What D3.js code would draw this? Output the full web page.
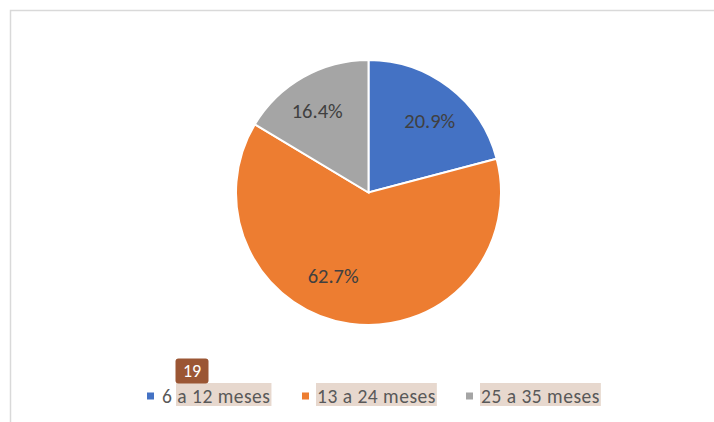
<!DOCTYPE html>
<html><head><meta charset="utf-8">
<script src="https://cdn.jsdelivr.net/npm/d3@7"></script>
<style>body{margin:0;background:#fff;} svg{display:block;}</style>
</head><body>
<svg id="c" width="714" height="422"></svg>
<script>
const categories = ["6 a 12 meses", "13 a 24 meses", "25 a 35 meses"];
const values = [20.9, 62.7, 16.4];
const colors = ["#4472C4", "#ED7D31", "#A5A5A5"];
const labels = ["20.9%", "62.7%", "16.4%"];
const badgeText = "19";

const svg = d3.select("#c");
const font = "Carlito, Lato, 'Open Sans', sans-serif";

// frame
svg.append("path").attr("d","M10.5,422 V10.5 H714").attr("fill","none").attr("stroke","#d9d9d9").attr("stroke-width",1.5);

const cx = 368.5, cy = 192.5, r = 132.5;
const pie = d3.pie().sort(null).value(d => d)(values);
const arc = d3.arc().innerRadius(0).outerRadius(r);
const g = svg.append("g").attr("transform", `translate(${cx},${cy})`);
g.selectAll("path").data(pie).join("path")
  .attr("d", arc).attr("fill", (d,i)=>colors[i])
  .attr("stroke","#fff").attr("stroke-width",2);

// label placement (best-fit style): radius fraction and angular nudge per slice
const labRad = [0.71, 0.68, 0.73];
const labNudge = [3, 15, -2.5];
g.selectAll("text").data(pie).join("text")
  .attr("transform", (d,i) => {
    const a = (d.startAngle + d.endAngle)/2 + labNudge[i]*Math.PI/180;
    const rr = r*labRad[i];
    return `translate(${rr*Math.sin(a)},${-rr*Math.cos(a)})`;
  })
  .attr("text-anchor","middle").attr("dy","0.35em")
  .attr("font-family", font).attr("font-size", 20.5).attr("fill","#404040")
  .text((d,i)=>labels[i]);

// legend
const legY = 396;
const itemX = d3.scaleOrdinal().domain(categories).range([147, 302, 466]);
const lg = svg.append("g");
categories.forEach((c,i) => {
  const x = itemX(c);
  const t = lg.append("text").attr("x", x+15).attr("y", legY).attr("dy","0.35em")
    .attr("font-family", font).attr("font-size", 19.5).attr("letter-spacing", 0.5).attr("fill","#595959").text(c);
  const bb = t.node().getBBox();
  let hx = bb.x - 1;
  if (i === 0) hx = bb.x + 14;
  lg.insert("rect", "text").attr("x", hx).attr("y", 383).attr("width", bb.x+bb.width-hx+1).attr("height", 23).attr("fill","#e7d8ce");
  lg.append("rect").attr("x", x).attr("y", legY-3.5).attr("width",7).attr("height",7).attr("fill", colors[i]);
});
// badge
svg.append("rect").attr("x",175.5).attr("y",358.5).attr("width",33).attr("height",25).attr("rx",3).attr("fill","#9b5634");
svg.append("text").attr("x",192).attr("y",371).attr("dy","0.35em").attr("text-anchor","middle")
  .attr("font-family", font).attr("font-size",18).attr("fill","#fff").text(badgeText);
</script>
</body></html>
